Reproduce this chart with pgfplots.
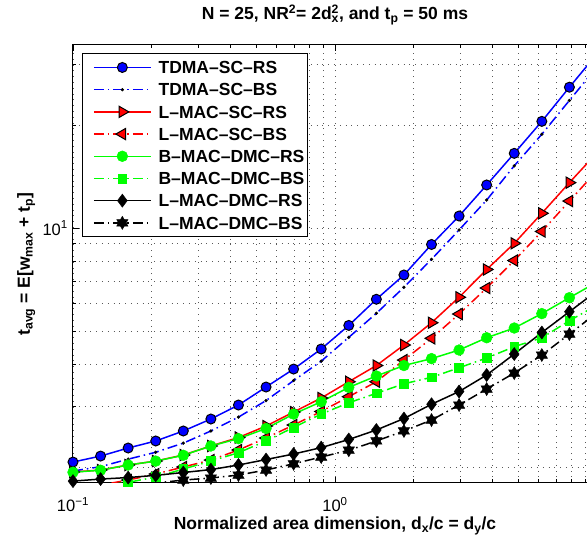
\documentclass[border=0pt]{standalone}
\usepackage{fontspec}
\setmainfont{Liberation Sans}
\usepackage{pgfplots}
\usepackage{pgfplotstable}
\pgfplotsset{compat=1.18}

\pgfdeclareplotmark{hexagram}{%
  \pgfpathmoveto{\pgfpointpolar{90}{\pgfplotmarksize}}%
  \pgfpathlineto{\pgfpointpolar{120}{0.577\pgfplotmarksize}}%
  \pgfpathlineto{\pgfpointpolar{150}{\pgfplotmarksize}}%
  \pgfpathlineto{\pgfpointpolar{180}{0.577\pgfplotmarksize}}%
  \pgfpathlineto{\pgfpointpolar{210}{\pgfplotmarksize}}%
  \pgfpathlineto{\pgfpointpolar{240}{0.577\pgfplotmarksize}}%
  \pgfpathlineto{\pgfpointpolar{270}{\pgfplotmarksize}}%
  \pgfpathlineto{\pgfpointpolar{300}{0.577\pgfplotmarksize}}%
  \pgfpathlineto{\pgfpointpolar{330}{\pgfplotmarksize}}%
  \pgfpathlineto{\pgfpointpolar{0}{0.577\pgfplotmarksize}}%
  \pgfpathlineto{\pgfpointpolar{30}{\pgfplotmarksize}}%
  \pgfpathlineto{\pgfpointpolar{60}{0.577\pgfplotmarksize}}%
  \pgfpathclose
  \pgfusepathqfillstroke
}

\pgfplotstableread{
x        bRS    bBS    rRS    rBS    gRS    gBS    kRS    kBS
0.1      2.069  1.948  1.935  1.725  1.932  1.725  1.820  1.713
0.127427 2.154  2.005  1.961  1.772  1.958  1.760  1.845  1.737
0.162378 2.274  2.11   2.028  1.833  2.028  1.805  1.864  1.772
0.206914 2.384  2.21   2.083  1.909  2.082  1.870  1.892  1.796
0.263665 2.550  2.35   2.169  2.001  2.165  1.974  1.928  1.833
0.335982 2.764  2.55   2.305  2.097  2.305  2.083  1.967  1.858
0.428133 3.037  2.80   2.440  2.244  2.422  2.203  2.028  1.896
0.545559 3.428  3.13   2.637  2.432  2.593  2.384  2.104  1.961
0.695193 3.870  3.58   2.897  2.655  2.858  2.612  2.184  2.045
0.885867 4.428  4.08   3.184  2.908  3.105  2.858  2.280  2.14
1.128838 5.19   4.79   3.553  3.212  3.42   3.084  2.408  2.24
1.438450 6.19   5.63   3.963  3.553  3.693  3.286  2.567  2.384
1.832981 7.29   6.71   4.549  4.111  3.963  3.504  2.773  2.550
2.335721 8.95   8.10   5.285  4.759  4.151  3.660  3.053  2.745
2.976351 10.84  9.87   6.273  5.604  4.398  3.904  3.326  3.037
3.792690 13.36  12.07  7.562  6.677  4.777  4.168  3.718  3.382
4.832930 16.53  15.2   9.02   8.035  5.10   4.497  4.281  3.767
6.158482 20.5   18.8   11.04  9.77   5.62   4.777  4.948  4.252
7.847600 25.8   23.6   13.57  11.99  6.255  5.356  5.691  4.898
10       32.3   29.6   16.6   14.7   6.95   5.95   6.55   5.65
}\data

\begin{document}
\begin{tikzpicture}
\begin{axis}[
  scale only axis, width=524pt, height=438pt,
  xmode=log, ymode=log,
  xmin=0.1, xmax=10, ymin=1.797, ymax=34.28,
  xtick={0.1,1}, xticklabels={10\textsuperscript{\textminus1},10\textsuperscript{0}},
  ytick={10}, yticklabels={10\textsuperscript{1}},
  minor xtick={0.2,0.3,0.4,0.5,0.6,0.7,0.8,0.9,2,3,4,5,6,7,8,9},
  minor ytick={2,3,4,5,6,7,8,9,20,30},
  grid=both,
  major grid style={black!65, line width=0.8pt, dash pattern=on 0.8pt off 5pt},
  minor grid style={black!65, line width=0.8pt, dash pattern=on 0.8pt off 5pt},
  axis line style={line width=1pt},
  tick style={black, line width=0.8pt},
  major tick length=6pt, minor tick length=3.5pt,
  ticklabel style={font=\fontsize{16.5}{20}\selectfont},
  xticklabel style={anchor=base, yshift=-29pt},
  yticklabel style={anchor=east, inner sep=0pt, xshift=-5pt},
  title={N = 25, NR\textsuperscript{2}= 2d\rlap{\textsuperscript{2}}\textsubscript{x}, and t\textsubscript{p} = 50 ms},
  title style={font=\fontsize{17.5}{21}\selectfont\bfseries, at={(axis description cs:0.5,1)}, anchor=base, yshift=19pt},
  xlabel={Normalized area dimension, d\textsubscript{x}/c = d\textsubscript{y}/c},
  xlabel style={font=\fontsize{17.5}{21}\selectfont\bfseries, at={(axis description cs:0.5,-0.1073)}, anchor=base},
  ylabel={t\textsubscript{avg} = E[w\textsubscript{max} + t\textsubscript{p}]},
  ylabel style={font=\fontsize{17.5}{21}\selectfont\bfseries, at={(axis description cs:-0.0821,0.5)}, anchor=base},
  legend style={at={(axis description cs:0.0166,0.981)}, anchor=north west,
    font=\fontsize{17.5}{21}\selectfont\bfseries, draw=black, line width=0.8pt, fill=white,
    inner xsep=3pt, inner ysep=5pt, column sep=7pt,
    row sep=4.7pt, nodes={inner sep=0pt, text height=12.5pt, text depth=0pt}},
  legend cell align=left,
  legend image code/.code={\path (0pt,-8pt) (0pt,8pt);
    \draw[mark repeat=2,mark phase=2,#1,line width=1.5pt] plot coordinates {(8pt,0pt) (36.5pt,0pt) (65pt,0pt)};},
]
\addplot[blue, line width=1.5pt, mark=*, mark size=5pt, mark options={fill=blue, draw=black, line width=1pt, solid}] table[x=x,y=bRS]{\data};
\addlegendentry{TDMA--SC--RS}
\addplot[blue, line width=1.5pt, dash pattern=on 10pt off 4pt on 1.5pt off 4pt, mark=*, mark size=1.4pt, mark options={fill=black, draw=black, line width=0.5pt, solid}] table[x=x,y=bBS]{\data};
\addlegendentry{TDMA--SC--BS}
\addplot[red, line width=1.5pt, mark=triangle*, mark size=6.5pt, mark options={rotate=-90, fill=red, draw=black, line width=1pt, solid}] table[x=x,y=rRS]{\data};
\addlegendentry{L--MAC--SC--RS}
\addplot[red, line width=1.5pt, dash pattern=on 10pt off 4pt on 1.5pt off 4pt, mark=triangle*, mark size=6.5pt, mark options={rotate=90, fill=red, draw=black, line width=1pt, solid}] table[x=x,y=rBS]{\data};
\addlegendentry{L--MAC--SC--BS}
\addplot[green, line width=1.5pt, mark=*, mark size=5.4pt, mark options={fill=green, draw=green, line width=0.5pt, solid}] table[x=x,y=gRS]{\data};
\addlegendentry{B--MAC--DMC--RS}
\addplot[green, line width=1.5pt, dash pattern=on 10pt off 4pt on 1.5pt off 4pt, mark=square*, mark size=4.4pt, mark options={fill=green, draw=green, line width=0.5pt, solid}] table[x=x,y=gBS]{\data};
\addlegendentry{B--MAC--DMC--BS}
\addplot[black, line width=1.5pt, mark=diamond*, mark size=6.5pt, mark options={fill=black, draw=black, line width=0.5pt, solid}] table[x=x,y=kRS]{\data};
\addlegendentry{L--MAC--DMC--RS}
\addplot[black, line width=1.5pt, dash pattern=on 10pt off 4pt on 1.5pt off 4pt, mark=hexagram, mark size=6.5pt, mark options={fill=black, draw=black, line width=0.5pt, solid}] table[x=x,y=kBS]{\data};
\addlegendentry{L--MAC--DMC--BS}
\end{axis}
\pgfresetboundingbox
\useasboundingbox (-73pt,-62pt) rectangle (514pt,483pt);
\end{tikzpicture}
\end{document}
